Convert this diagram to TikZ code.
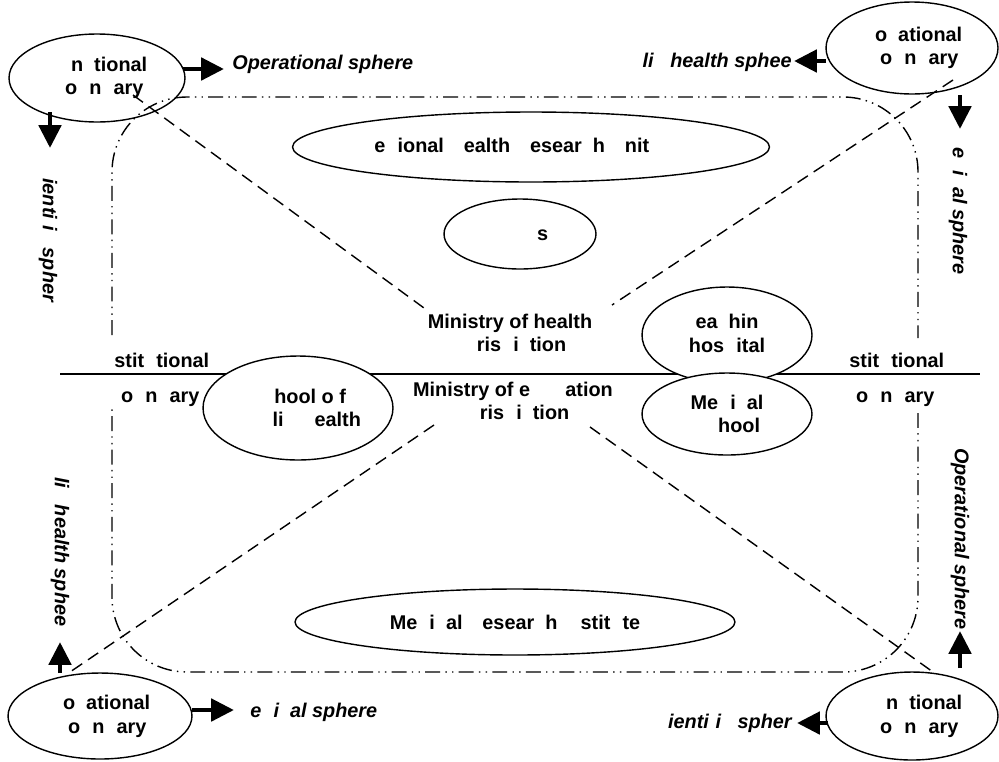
\documentclass[tikz,border=0pt]{standalone}
\usepackage{fontspec}
\setmainfont{Liberation Sans}
\usetikzlibrary{arrows.meta,shapes.geometric}
\newcommand\mgl[1]{\phantom{#1}}
\begin{document}
\begin{tikzpicture}[x=0.02cm,y=-0.02cm,
  lab/.style={font=\fontsize{11.3}{13.5}\selectfont\bfseries, inner sep=0pt, align=center},
  sph/.style={font=\fontsize{11.3}{13.5}\selectfont\bfseries\itshape, inner sep=0pt},
  ell/.style={draw, ellipse, line width=0.8pt, inner sep=0pt, align=center, font=\fontsize{11.3}{13.5}\selectfont\bfseries},
  wellipse/.style={ell, fill=white},
  bigarrow/.style={line width=2.8pt, -{Triangle[length=13pt 0 0,width=12.5pt 0 0]}},
  diag/.style={line width=0.8pt, dash pattern=on 7pt off 4pt},
  bndry/.style={line width=0.8pt, dash pattern=on 8.5pt off 3pt on 0.8pt off 3pt on 0.8pt off 3pt, rounded corners=1.5cm},
  divider/.style={line width=1.6pt},
]
\useasboundingbox (0,0) rectangle (999,761);

% boundary frame (interrupted at the institutional labels)
\draw[bndry] (112,335) -- (112,97) -- (918,97) -- (918,338);
\draw[bndry] (918,413) -- (918,672) -- (112,672) -- (112,405);

% horizontal divider
\coordinate (hl1) at (60,374);
\coordinate (hl2) at (980,374);
\draw[divider] (hl1) -- (hl2);

% corner ellipses
\node[ell, minimum width=3.52cm, minimum height=1.76cm] (tl) at (97,78) {\mgl{F}\mgl{u}n\mgl{c}tional\\\mgl{B}o\mgl{u}n\mgl{d}ary};
\node[ell, minimum width=3.44cm, minimum height=1.84cm] (tr) at (912,48) {\mgl{V}o\mgl{c}ational\\\mgl{B}o\mgl{u}n\mgl{d}ary};
\node[ell, minimum width=3.68cm, minimum height=1.72cm] (bl) at (100,716) {\mgl{V}o\mgl{c}ational\\\mgl{B}o\mgl{u}n\mgl{d}ary};
\node[ell, minimum width=3.44cm, minimum height=1.76cm] (br) at (912,716) {\mgl{F}\mgl{u}n\mgl{c}tional\\\mgl{B}o\mgl{u}n\mgl{d}ary};

% dashed diagonals
\coordinate (d1a) at (133,95);  \coordinate (d1b) at (424,308);
\coordinate (d2a) at (953,80);  \coordinate (d2b) at (612,305);
\coordinate (d3a) at (434,425); \coordinate (d3b) at (70,672);
\coordinate (d4a) at (590,427); \coordinate (d4b) at (933,672);
\draw[diag] (d1a) -- (d1b);
\draw[diag] (d2a) -- (d2b);
\draw[diag] (d3a) -- (d3b);
\draw[diag] (d4a) -- (d4b);

% inner ellipses
\node[wellipse, minimum width=9.54cm, minimum height=1.4cm] (rhru) at (531,147) {\hspace*{-30pt}\mgl{R}e\mgl{g}ional \mgl{H}ealth \mgl{R}esear\mgl{c}h \mgl{U}nit};
\node[wellipse, minimum width=3.04cm, minimum height=1.4cm] (ngo) at (520,234) {\mgl{NGO}s};
\node[wellipse, minimum width=3.4cm, minimum height=1.92cm] (th) at (727,335) {\mgl{T}ea\mgl{c}hin\mgl{g}\\hos\mgl{p}ital};
\node[wellipse, minimum width=3.4cm, minimum height=1.64cm] (ms) at (727,414) {Me\mgl{d}i\mgl{c}al\\\mgl{Sc}hool};
\node[wellipse, minimum width=3.8cm, minimum height=2.08cm] (sph) at (298,408) {\mgl{Sc}hool o f\\\mgl{Pub}li\mgl{c} \mgl{H}ealth};
\node[wellipse, minimum width=8.8cm, minimum height=1.32cm] (mri) at (515,622) {Me\mgl{d}i\mgl{c}al \mgl{R}esear\mgl{c}h \mgl{In}stit\mgl{u}te};

% ministry labels
\node[lab] (moh) at (510,333) {Ministry of health\\\mgl{Ju}ris\mgl{d}i\mgl{c}tion};
\node[lab] (moe) at (513,401) {Ministry of e\mgl{duc}ation\\\mgl{Ju}ris\mgl{d}i\mgl{c}tion};

% institutional boundary labels
\node[lab] (ib1) at (153,360) {\mgl{In}stit\mgl{u}tional};
\node[lab] (ib2) at (153,397) {\mgl{B}o\mgl{u}n\mgl{d}ary};
\node[lab] (ib3) at (888,360) {\mgl{In}stit\mgl{u}tional};
\node[lab] (ib4) at (888,397) {\mgl{B}o\mgl{u}n\mgl{d}ary};

% sphere labels
\node[sph, anchor=west] (s1) at (232,64) {Operational sphere};
\node[sph, anchor=east] (s2) at (792,62) {li\mgl{c} health sphee};
\node[sph, anchor=west] (s3) at (250,712) {e\mgl{d}i\mgl{c}al sphere};
\node[sph, anchor=east] (s4) at (792,723) {ienti\mgl{f}i\mgl{c} spher};
\node[sph, anchor=west, rotate=-90] (s5) at (48,178) {ienti\mgl{f}i\mgl{c} spher};
\node[sph, anchor=west, rotate=-90] (s6) at (958,147) {e\mgl{d}i\mgl{c}al sphere};
\node[sph, anchor=west, rotate=-90] (s7) at (60,477) {li\mgl{c} health sphee};
\node[sph, anchor=west, rotate=-90] (s8) at (960,448) {Operational sphere};

% thick arrows
\coordinate (a1s) at (183,69);  \coordinate (a1e) at (224,69);
\coordinate (a2s) at (826,61);  \coordinate (a2e) at (794,61);
\coordinate (a3s) at (50,112);  \coordinate (a3e) at (50,148);
\coordinate (a4s) at (960,95);  \coordinate (a4e) at (960,129);
\coordinate (a5s) at (60,673);  \coordinate (a5e) at (60,642);
\coordinate (a6s) at (960,668); \coordinate (a6e) at (960,631);
\coordinate (a7s) at (192,710); \coordinate (a7e) at (234,710);
\coordinate (a8s) at (828,723); \coordinate (a8e) at (797,723);
\foreach \i in {1,...,8} {\draw[bigarrow] (a\i s) -- (a\i e);}
\end{tikzpicture}
\end{document}
